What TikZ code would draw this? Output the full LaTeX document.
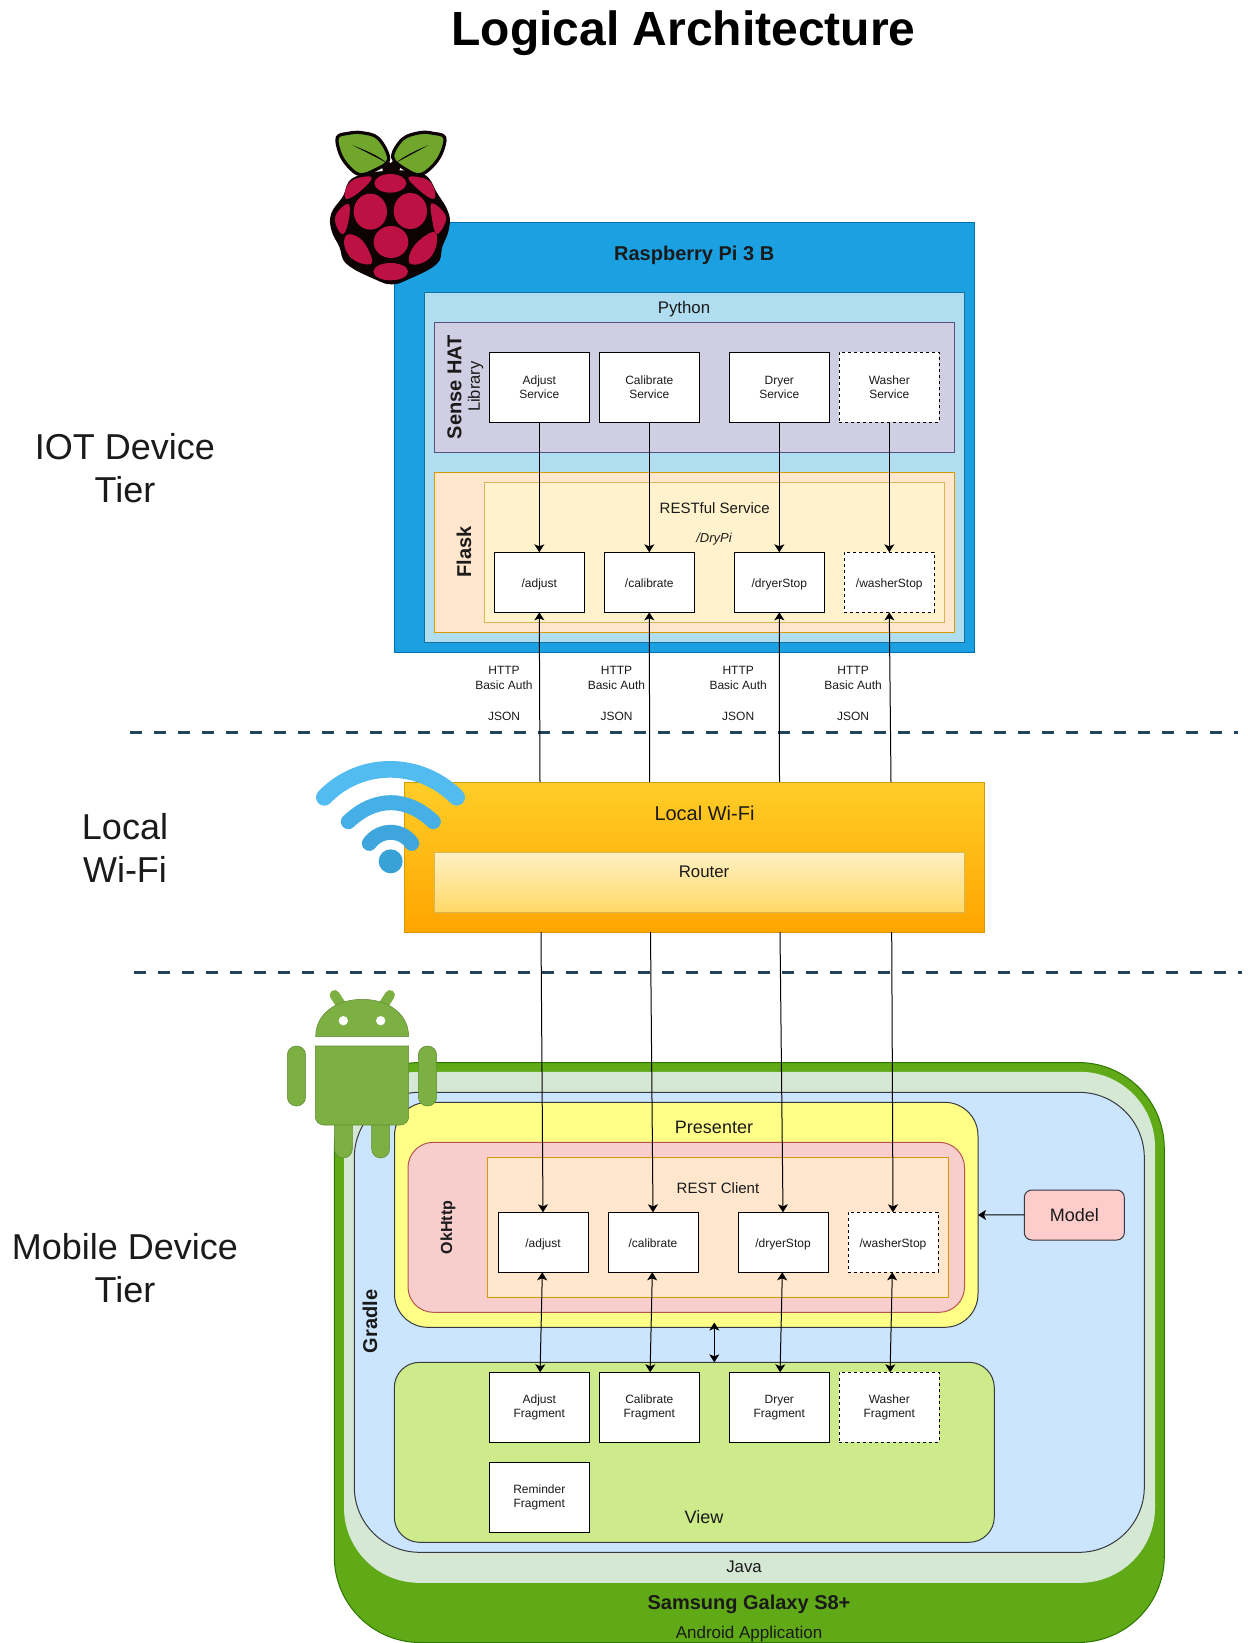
\documentclass[tikz,border=0pt]{standalone}
\usepackage{fontspec}
\setmainfont{Liberation Sans}
\usetikzlibrary{arrows.meta}
\definecolor{piFill}{HTML}{1BA1E2}\definecolor{piLine}{HTML}{006EAF}
\definecolor{pyFill}{HTML}{B1DDF0}\definecolor{pyLine}{HTML}{10739E}
\definecolor{hatFill}{HTML}{D0CEE2}\definecolor{hatLine}{HTML}{56517E}
\definecolor{peach}{HTML}{FFE6CC}\definecolor{peachLine}{HTML}{D79B00}
\definecolor{cream}{HTML}{FFF2CC}\definecolor{creamLine}{HTML}{D6B656}
\definecolor{samFill}{HTML}{60A917}\definecolor{samLine}{HTML}{2D7600}
\definecolor{javaFill}{HTML}{D5E8D4}
\definecolor{gradFill}{HTML}{CCE5FF}\definecolor{darkLine}{HTML}{36393D}
\definecolor{presFill}{HTML}{FFFF88}
\definecolor{okFill}{HTML}{F8CECC}\definecolor{okLine}{HTML}{B85450}
\definecolor{viewFill}{HTML}{CDEB8B}
\definecolor{modelFill}{HTML}{FFCCCC}
\definecolor{tierCol}{HTML}{23445D}
\definecolor{inkCol}{HTML}{1A1A1A}
\definecolor{wifiTop}{HTML}{FFCD28}\definecolor{wifiBot}{HTML}{FFA500}
\definecolor{routTop}{HTML}{FFF0C4}\definecolor{routBot}{HTML}{FFD966}
\definecolor{rasRed}{HTML}{BC1142}\definecolor{rasGreen}{HTML}{6FA62B}\definecolor{rasDark}{HTML}{0D0304}
\definecolor{andGreen}{HTML}{7CB043}\definecolor{andLine}{HTML}{5E8A33}
\definecolor{wfA}{HTML}{52BBEF}\definecolor{wfB}{HTML}{46AFE5}\definecolor{wfC}{HTML}{3FA6DD}\definecolor{wfD}{HTML}{38A1D6}
\tikzset{
  sz/.style 2 args={minimum width=#1*0.75pt,minimum height=#2*0.75pt},
  base/.style={inner sep=0pt,outer sep=0pt,line width=0.75pt,text=inkCol,align=center},
  area/.style={base,draw,rectangle,anchor=north west},
  whitebox/.style={base,draw=black,fill=white,rectangle,font=\fontsize{9}{10.5}\selectfont},
  svc/.style={whitebox,sz={100}{70},execute at begin node={\rule{0pt}{9.5pt}}},
  ept/.style={whitebox,sz={90}{60},text height=8pt,text depth=0pt},
  dashbox/.style={dash pattern=on 2.25pt off 2.25pt},
  lbl/.style={inner sep=0pt,outer sep=0pt,text=inkCol,align=center},
  fa/.style={font=\fontsize{9}{10.8}\selectfont},
  fb/.style={font=\fontsize{9.75}{11.7}\itshape\selectfont},
  fc/.style={font=\fontsize{11.25}{13.5}\selectfont},
  fd/.style={font=\fontsize{12.4}{14.4}\selectfont},
  fe/.style={font=\fontsize{12.6}{15}\selectfont},
  ff/.style={font=\fontsize{13.5}{16.2}\selectfont},
  fg/.style={font=\fontsize{15}{18}\selectfont},
  fh/.style={font=\fontsize{15}{18}\bfseries\selectfont},
  fi/.style={font=\fontsize{12}{14}\bfseries\selectfont},
  tier/.style={lbl,font=\fontsize{27}{32.4}\selectfont},
  conn/.style={line width=0.75pt,draw=black,-{Stealth[length=6pt,width=7.5pt,inset=1.5pt]}},
  biconn/.style={line width=0.75pt,draw=black,{Stealth[length=6pt,width=7.5pt,inset=1.5pt]}-{Stealth[length=6pt,width=7.5pt,inset=1.5pt]}},
  tierline/.style={draw=tierCol,line width=2.25pt,dash pattern=on 9pt off 9pt},
  zoomA/.style={shift={(280,100)},x=0.25pt,y=-0.25pt},
  zoomB/.style={shift={(280,740)},x=0.25pt,y=-0.25pt},
  andpart/.style={fill=andGreen,draw=andLine,line width=0.4pt},
}
\begin{document}
\begin{tikzpicture}[x=0.75pt,y=-0.75pt]
\useasboundingbox (0,0) rectangle (1248,1643);
\node[lbl,font=\fontsize{36}{43}\bfseries\selectfont,text=black] (title) at (683.5,33) {Logical Architecture};
\node[tier] (tierA) at (125,468) {IOT Device\\Tier};
\node[tier] (tierB) at (125,847.6) {Local\hspace{15.3pt}\\Wi-Fi};
\node[tier] (tierC) at (125,1268) {Mobile Device\\Tier};

% tier lines
\coordinate (lineAa) at (129.6,732.3);\coordinate (lineAb) at (1237.5,732.3);
\coordinate (lineBa) at (133.7,972.3);\coordinate (lineBb) at (1241.5,972.3);
\draw[tierline] (lineAa) -- (lineAb);
\draw[tierline] (lineBa) -- (lineBb);

% Raspberry Pi
\node[area,draw=piLine,fill=piFill,sz={580}{430}] (pi) at (394.3,222.3) {};
\node[area,draw=pyLine,fill=pyFill,sz={540}{350}] (py) at (424.3,292.3) {};
\node[area,draw=hatLine,fill=hatFill,sz={520}{130}] (hat) at (434.3,322.3) {};
\node[area,draw=peachLine,fill=peach,sz={520}{160}] (flask) at (434.3,472.3) {};
\node[area,draw=creamLine,fill=cream,sz={460}{140}] (rest) at (484.3,482.3) {};
\node[lbl,fh] (piT) at (694.2,255.2) {Raspberry Pi 3 B};
\node[lbl,fe] (pyT) at (684,309) {Python};
\node[lbl,fh,rotate=90] (hatT) at (454.5,387) {Sense HAT};
\node[lbl,fd,rotate=90] (libT) at (475.5,386.7) {Library};
\node[lbl,fh,rotate=90] (flaskT) at (464,552) {Flask};
\node[lbl,fc] (restT) at (714.7,508) {RESTful Service};
\node[lbl,fb] (dryT) at (714,539) {/DryPi};
\node[svc] (sa) at (539.3,387.3) {Adjust~\\Service};
\node[svc] (sb) at (649.3,387.3) {Calibrate\\Service};
\node[svc] (sc) at (779.3,387.3) {Dryer\\Service};
\node[svc,dashbox] (sd) at (889.3,387.3) {Washer\\Service};
\node[ept] (pa) at (539.3,582.3) {/adjust};
\node[ept] (pb) at (649.3,582.3) {/calibrate};
\node[ept] (pc) at (779.3,582.3) {/dryerStop};
\node[ept,dashbox] (pd) at (889.3,582.3) {/washerStop};
\draw[conn] (sa) -- (pa);
\draw[conn] (sb) -- (pb);
\draw[conn] (sc) -- (pc);
\draw[conn] (sd) -- (pd);

% Wi-Fi box
\node[area,draw=peachLine,top color=wifiTop,bottom color=wifiBot,sz={580}{150}] (wifi) at (404,782) {};
\node[area,draw=creamLine,top color=routTop,bottom color=routBot,sz={530}{60}] (router) at (434,852.5) {};
\node[lbl,fg] (wifiT) at (704.5,813) {Local Wi-Fi};
\node[lbl,fe] (routerT) at (704,872) {Router};
\coordinate (wa) at (540,782);\coordinate (wb) at (649.7,782);\coordinate (wc) at (779.5,782);\coordinate (wd) at (891,782);
\coordinate (xa) at (541,932);\coordinate (xb) at (650.5,932);\coordinate (xc) at (780,932);\coordinate (xd) at (891.7,932);
\draw[conn] (wa) -- (pa.south);
\draw[conn] (wb) -- (pb.south);
\draw[conn] (wc) -- (pc.south);
\draw[conn] (wd) -- (pd.south);
\node[lbl,fa] (ha) at (504,693.5) {HTTP~\\Basic Auth\\[12.7pt]JSON};
\node[lbl,fa] (hb) at (616.5,693.5) {HTTP~\\Basic Auth\\[12.7pt]JSON};
\node[lbl,fa] (hc) at (738.2,693.5) {HTTP~\\Basic Auth\\[12.7pt]JSON};
\node[lbl,fa] (hd) at (853.1,693.5) {HTTP~\\Basic Auth\\[12.7pt]JSON};

% Samsung
\node[area,draw=samLine,fill=samFill,sz={830}{580},rounded corners=64.5pt] (sam) at (334.3,1062.5) {};
\node[area,draw=javaFill,fill=javaFill,sz={810}{510},rounded corners=56pt] (java) at (344.5,1072.3) {};
\node[area,draw=darkLine,fill=gradFill,sz={790}{460},rounded corners=49pt] (gradle) at (354.3,1092.3) {};
\node[area,draw=darkLine,fill=presFill,sz={583.5}{225},rounded corners=25pt] (pres) at (394.5,1102.3) {};
\node[area,draw=okLine,fill=okFill,sz={556.5}{170},rounded corners=19pt] (ok) at (408,1142.3) {};
\node[area,draw=peachLine,fill=peach,sz={460.5}{140}] (rc) at (487.7,1157.3) {};
\node[area,draw=darkLine,fill=viewFill,sz={600}{180},rounded corners=19pt] (view) at (394.3,1362.3) {};
\node[base,draw=darkLine,fill=modelFill,rectangle,sz={100}{50},rounded corners=5.6pt,ff] (model) at (1074.3,1215) {Model};
\node[lbl,ff] (presT) at (714,1127) {Presenter};
\node[lbl,fc] (rcT) at (718,1188) {REST Client};
\node[lbl,fi,rotate=90] (okT) at (448,1227.5) {OkHttp};
\node[lbl,fh,rotate=90] (gradT) at (370,1321.5) {Gradle};
\node[lbl,ff] (viewT) at (704,1517.5) {View};
\node[lbl,fe] (javaT) at (744,1567) {Java};
\node[lbl,fh] (samT) at (749,1604) {Samsung Galaxy S8+};
\node[lbl,font=\fontsize{12.75}{15}\selectfont] (andT) at (749,1634) {Android Application};
\node[ept] (ma) at (543,1242.3) {/adjust};
\node[ept] (mb) at (653,1242.3) {/calibrate};
\node[ept] (mc) at (783,1242.3) {/dryerStop};
\node[ept,dashbox] (md) at (893,1242.3) {/washerStop};
\node[svc] (fa) at (539.3,1407.3) {Adjust\\Fragment};
\node[svc] (fb) at (649.3,1407.3) {Calibrate\\Fragment};
\node[svc] (fc) at (779.3,1407.3) {Dryer\\Fragment};
\node[svc,dashbox] (fd) at (889.3,1407.3) {Washer\\Fragment};
\node[svc] (fe) at (539.3,1497.3) {Reminder\\Fragment};
\draw[conn] (xa) -- (ma.north);
\draw[conn] (xb) -- (mb.north);
\draw[conn] (xc) -- (mc.north);
\draw[conn] (xd) -- (md.north);
\draw[biconn] (ma) -- (fa);
\draw[biconn] (mb) -- (fb);
\draw[biconn] (mc) -- (fc);
\draw[biconn] (md) -- (fd);
\coordinate (pvA) at (714.3,1322.5);\coordinate (pvB) at (714.3,1362.3);
\draw[biconn] (pvA) -- (pvB);
\draw[conn] (model) -- (pres);

% Raspberry logo
\begin{scope}[zoomA]
\fill[rasDark] plot[smooth cycle,tension=0.7] coordinates {(335,212)(430,222)(472,280)(506,340)(506,390)(487,440)(470,492)(385,538)(335,553)(285,538)(200,492)(178,440)(154,390)(154,340)(188,290)(222,232)};
\fill[rasDark] (298,150) -- (332,190) -- (368,150) -- (355,235) -- (312,235) -- cycle;
\path[fill=rasGreen,draw=rasDark,line width=2.4pt,line join=round] plot[smooth cycle,tension=0.6] coordinates {(172,112)(205,100)(245,98)(295,115)(326,178)(285,210)(240,224)(205,199)(180,160)};
\path[fill=rasGreen,draw=rasDark,line width=2.4pt,line join=round] plot[smooth cycle,tension=0.6] coordinates {(338,172)(368,117)(420,98)(460,100)(494,112)(484,160)(457,199)(420,224)(380,210)};
\fill[rasDark] (218,136) .. controls (260,152) and (295,167) .. (322,190) .. controls (290,172) and (255,155) .. (218,136) -- cycle;
\fill[rasDark] (445,136) .. controls (405,152) and (375,167) .. (345,190) .. controls (378,172) and (410,155) .. (445,136) -- cycle;
\fill[rasRed] (331,250) ellipse [x radius=48,y radius=28];
\fill[rasRed] plot[smooth cycle,tension=0.7] coordinates {(200,297)(198,265)(225,237)(275,232)(245,270)};
\fill[rasRed] plot[smooth cycle,tension=0.7] coordinates {(460,297)(462,265)(437,237)(385,232)(417,270)};
\fill[rasRed] (271,335) ellipse [x radius=50,y radius=54];
\fill[rasRed] (391,333) ellipse [x radius=50,y radius=54];
\fill[rasRed] (333,426) ellipse [x radius=52,y radius=48];
\fill[rasRed] plot[smooth cycle,tension=0.7] coordinates {(205,312)(207,355)(190,402)(168,375)(170,340)};
\fill[rasRed] plot[smooth cycle,tension=0.7] coordinates {(455,310)(490,335)(497,365)(470,402)(455,350)};
\fill[rasRed] plot[smooth cycle,tension=0.7] coordinates {(200,405)(240,415)(270,460)(272,492)(225,482)(195,445)};
\fill[rasRed] plot[smooth cycle,tension=0.7] coordinates {(465,397)(468,440)(440,482)(392,492)(392,455)(425,415)};
\fill[rasRed] (332,515) ellipse [x radius=52,y radius=26];
\end{scope}

% Wi-Fi logo
\begin{scope}[zoomB]
\draw[wfA,line width=12.5pt,line cap=round] (133,172) .. controls (240,60) and (420,60) .. (530,172);
\draw[wfB,line width=11.25pt,line cap=round] (205,245) .. controls (285,169) and (380,169) .. (460,245);
\draw[wfC,line width=11.25pt,line cap=round] (268,310) .. controls (300,266) and (365,266) .. (395,310);
\fill[wfD] (332,364) circle [radius=36];
\end{scope}

% Android logo
\begin{scope}[zoomB]
\draw[andpart,rounded corners=6.75pt] (163,1100) rectangle (217,1254);
\draw[andpart,rounded corners=6.75pt] (275,1100) rectangle (329,1254);
\draw[andpart] (106,918) -- (386,918) {[rounded corners=6.25pt] -- (386,1155) -- (106,1155) -- (106,1000)} -- cycle;
\draw[andpart,rounded corners=6.75pt] (22,918) rectangle (77,1098);
\draw[andpart,rounded corners=6.75pt] (415,918) rectangle (470,1098);
\draw[andGreen,line width=7.5pt,line cap=round] (164,765) -- (190,805);
\draw[andGreen,line width=7.5pt,line cap=round] (330,765) -- (304,805);
\draw[andpart] (107,890) .. controls (107,820) and (170,778) .. (246.5,778) .. controls (323,778) and (386,820) .. (386,890) -- cycle;
\fill[white] (190,842) circle [radius=14];
\fill[white] (302,842) circle [radius=14];
\end{scope}
\end{tikzpicture}
\end{document}
